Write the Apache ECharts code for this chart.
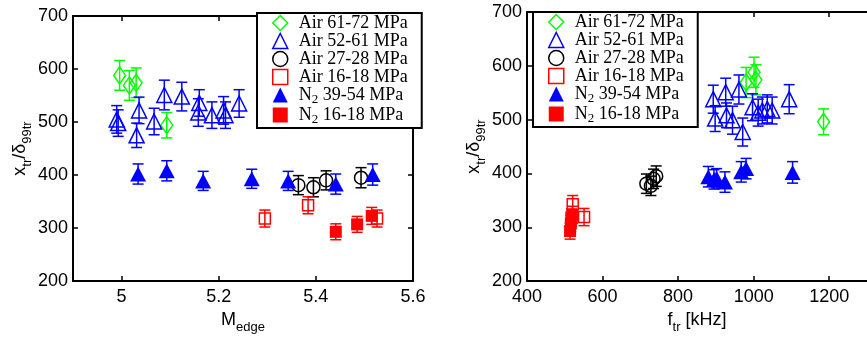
<!DOCTYPE html>
<html><head><meta charset="utf-8">
<script src="https://cdn.jsdelivr.net/npm/echarts@6/dist/echarts.min.js"></script>
<style>html,body{margin:0;padding:0;background:#fff}#c{width:867px;height:339px}</style>
</head><body><div id="c"></div>
<script>
// ---- data: [x, y, error] ----
const seriesNames = ['Air 61-72 MPa','Air 52-61 MPa','Air 27-28 MPa','Air 16-18 MPa','N2 39-54 MPa','N2 16-18 MPa'];
const xTicksLeft = [5, 5.2, 5.4, 5.6];
const yTicks = [200, 300, 400, 500, 600, 700];
const xTicksRight = [400, 600, 800, 1000, 1200];

// left panel: M_edge
const air6172L = [[4.996,588,28],[5.016,569,28],[5.030,574,28],[5.093,494,24]];
const air5261L = [[4.990,505,26],[4.993,498,25],[5.031,475,23],[5.036,522,25],[5.067,501,25],[5.088,551,28],[5.124,548,27],[5.160,536,25],[5.158,518,26],[5.186,513,25],[5.210,522,26],[5.214,513,25],[5.242,535,26]];
const air2728L = [[5.364,381,18],[5.395,377,18],[5.421,390,18],[5.493,395,19]];
const air1618L = [[5.295,318,16],[5.384,343,16],[5.526,318,16]];
const n23954L = [[5.034,402,19],[5.093,408,19],[5.168,389,18],[5.268,393,18],[5.343,389,18],[5.441,383,19],[5.517,401,20]];
const n21618L = [[5.441,293,15],[5.485,307,15],[5.515,323,16]];

// right panel: f_tr [kHz]
const air6172R = [[1001,588,28],[980,569,28],[1006,574,28],[1185,496,24]];
const air5261R = [[893,538,26],[926,551,26],[961,556,27],[898,502,24],[928,508,23],[944,499,26],[971,477,26],[997,523,25],[1012,513,25],[1023,517,25],[1036,520,26],[1049,517,25],[1094,538,27]];
const air2728R = [[716,381,18],[728,377,18],[735,390,18],[742,395,19]];
const air1618R = [[521,343,16],[551,319,16],[518,318,16]];
const n23954R = [[880,394,19],[895,389,18],[902,391,18],[924,384,19],[967,403,19],[980,409,19],[1103,402,20]];
const n21618R = [[514,293,15],[516,307,15],[520,323,16]];

const styles = [
  {color:'#00ff00', symbol:'diamond', size:[12,17], filled:false},
  {color:'#0000ff', symbol:'triangle', size:[15,15], filled:false},
  {color:'#000000', symbol:'circle', size:13, filled:false},
  {color:'#ff0000', symbol:'rect', size:11, filled:false},
  {color:'#0000ff', symbol:'triangle', size:[16,15], filled:true},
  {color:'#ff0000', symbol:'rect', size:12, filled:true}
];
const leftData = [air6172L, air5261L, air2728L, air1618L, n23954L, n21618L];
const rightData = [air6172R, air5261R, air2728R, air1618R, n23954R, n21618R];

function ebRender(color){
  return function(params, api){
    const x = api.value(0), y = api.value(1), e = api.value(2);
    const t = api.coord([x, y + e]), b = api.coord([x, y - e]);
    const hw = 5.5;
    const st = {stroke: color, lineWidth: 1.5, fill: null};
    return {type:'group', children:[
      {type:'line', shape:{x1:t[0],y1:t[1],x2:b[0],y2:b[1]}, style:st},
      {type:'line', shape:{x1:t[0]-hw,y1:t[1],x2:t[0]+hw,y2:t[1]}, style:st},
      {type:'line', shape:{x1:b[0]-hw,y1:b[1],x2:b[0]+hw,y2:b[1]}, style:st}
    ]};
  };
}

const series = [];
[[leftData,0],[rightData,1]].forEach(([dataSet, gi]) => {
  const xi = gi === 0 ? 0 : 2;
  const yi = gi === 0 ? 0 : 2;
  dataSet.forEach((d, k) => {
    const s = styles[k];
    series.push({
      type:'custom', name:'eb'+gi+'_'+k, xAxisIndex:xi, yAxisIndex:yi,
      renderItem: ebRender(s.color), data: d, encode:{x:0,y:1}, z:2, silent:true
    });
  });
  dataSet.forEach((d, k) => {
    const s = styles[k];
    series.push({
      type:'scatter', name: seriesNames[k], xAxisIndex:xi, yAxisIndex:yi,
      symbol: s.symbol, symbolSize: s.size, z:3,
      itemStyle: s.filled ? {color:s.color, borderWidth:0, opacity:1}
                          : {color:'rgba(0,0,0,0)', borderColor:s.color, borderWidth:1.5, opacity:1},
      data: d.map(p => [p[0], p[1]])
    });
  });
});

const richName = {
  m:{fontFamily:'Liberation Sans', fontSize:18, lineHeight:18, verticalAlign:'top', color:'#000'},
  s:{fontFamily:'Liberation Sans', fontSize:13, lineHeight:13, padding:[10,0,0,0], verticalAlign:'top', color:'#000'}
};
const yName = '{m|x}{s|tr}{m|/δ}{s|99tr}';

function legendFor(left, top){
  return {
    orient:'vertical', left:left, top:top,
    padding:[1,14,2,15], itemGap:0, itemWidth:15, itemHeight:15,
    borderColor:'#000', borderWidth:2, backgroundColor:'#fff', borderRadius:0,
    selectedMode:false,
    data: seriesNames.map((n,k) => ({
      name:n, icon: styles[k].symbol,
      itemStyle: styles[k].filled ? {color:styles[k].color, borderWidth:0}
        : {color:'rgba(0,0,0,0)', borderColor:styles[k].color, borderWidth:1.5}
    })),
    formatter: n => n.startsWith('N2') ? '{g|}{m|N}{s|2}{m|' + n.slice(2) + '}' : '{g|}{m|' + n + '}',
    textStyle:{
      color:'#000', fontFamily:'Liberation Serif', fontSize:18,
      rich:{
        g:{width:6},
        m:{fontFamily:'Liberation Serif', fontSize:18, lineHeight:16, color:'#000'},
        s:{fontFamily:'Liberation Serif', fontSize:13, lineHeight:13, padding:[7,0,0,0], verticalAlign:'top', color:'#000'}
      }
    }
  };
}

const axLine = {show:true, lineStyle:{color:'#000', width:2}};
const tickIn = (vals) => ({show:true, inside:true, length:5, lineStyle:{color:'#000', width:1.5}, customValues: vals});
const lbl = (vals) => ({show:true, color:'#000', fontFamily:'Liberation Sans', fontSize:18, margin:7, customValues: vals,
  showMinLabel:true, showMaxLabel:true, formatter: v => String(v)});

const option = {
  animation:false,
  backgroundColor:'#fff',
  grid:[
    {left:73, right:454, top:16, bottom:53},
    {left:527, right:-6, top:12, bottom:53}
  ],
  xAxis:[
    {type:'value', gridIndex:0, min:4.9, max:5.6, position:'bottom',
     axisLine:axLine, axisTick:tickIn(xTicksLeft), axisLabel:lbl(xTicksLeft), splitLine:{show:false},
     name:'{m|M}{s|edge}', nameLocation:'middle', nameGap:22, nameTextStyle:{rich:richName}},
    {type:'value', gridIndex:0, min:4.9, max:5.6, position:'top',
     axisLine:axLine, axisTick:tickIn(xTicksLeft), axisLabel:{show:false}, splitLine:{show:false}},
    {type:'value', gridIndex:1, min:400, max:1300, interval:200, position:'bottom',
     axisLine:axLine, axisTick:tickIn(xTicksRight), axisLabel:lbl(xTicksRight), splitLine:{show:false},
     name:'{m|f}{s|tr}{m| [kHz]}', nameLocation:'middle', nameGap:22, nameTextStyle:{rich:richName}},
    {type:'value', gridIndex:1, min:400, max:1300, interval:200, position:'top',
     axisLine:axLine, axisTick:tickIn(xTicksRight), axisLabel:{show:false}, splitLine:{show:false}}
  ],
  yAxis:[
    {type:'value', gridIndex:0, min:200, max:700, interval:100, position:'left',
     axisLine:axLine, axisTick:tickIn(yTicks), axisLabel:Object.assign(lbl(yTicks),{margin:5}), splitLine:{show:false},
     name:yName, nameLocation:'middle', nameGap:44, nameTextStyle:{rich:richName}},
    {type:'value', gridIndex:0, min:200, max:700, interval:100, position:'right',
     axisLine:axLine, axisTick:tickIn(yTicks), axisLabel:{show:false}, splitLine:{show:false}},
    {type:'value', gridIndex:1, min:200, max:700, interval:100, position:'left',
     axisLine:axLine, axisTick:tickIn(yTicks), axisLabel:Object.assign(lbl(yTicks),{margin:5}), splitLine:{show:false},
     name:yName, nameLocation:'middle', nameGap:44, nameTextStyle:{rich:richName}}
  ],
  legend:[legendFor(257,13), legendFor(533,12)],
  series: series
};
const chart = echarts.init(document.getElementById('c'), null, {renderer:'canvas'});
chart.setOption(option);
</script>
</body></html>
